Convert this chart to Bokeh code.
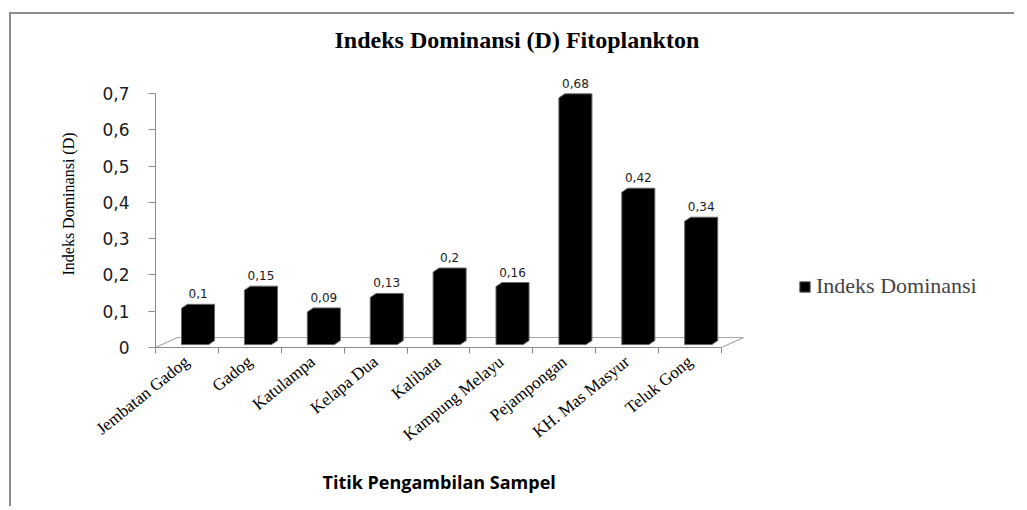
from bokeh.plotting import figure
from bokeh.models import (Range1d, FixedTicker, Legend, LegendItem, LinearAxis, Title)
from bokeh.core.properties import value
from bokeh.embed import file_html
from bokeh.resources import INLINE

# ---------------- data ----------------
categories = ["Jembatan Gadog", "Gadog", "Katulampa", "Kelapa Dua", "Kalibata",
              "Kampung Melayu", "Pejampongan", "KH. Mas Masyur", "Teluk Gong"]
values = [0.1, 0.15, 0.09, 0.13, 0.2, 0.16, 0.68, 0.42, 0.34]
y_ticks = [0, 0.1, 0.2, 0.3, 0.4, 0.5, 0.6, 0.7]
y_tick_labels = ["0", "0,1", "0,2", "0,3", "0,4", "0,5", "0,6", "0,7"]
series_name = "Indeks Dominansi"
title_text = "Indeks Dominansi  (D) Fitoplankton"
x_title = "Titik Pengambilan Sampel"
y_title = "Indeks Dominansi (D)"

# ---------------- style constants ----------------
FRONT_LEFT = -0.086   # front face left edge relative to category centre
FRONT_W = 0.43        # width of front face (category units)
DEPTH_DX = 0.095      # bar depth, x (category units)
DEPTH_DY = 0.011      # bar depth, y (value units)
LIFT = 0.008          # bars sit slightly back on the floor
FLOOR_DX = 0.35
FLOOR_DY = 0.0276
AXIS_GRAY = "#8c8c8c"

n = len(categories)
idx = list(range(n))

p = figure(width=1005, height=494, output_backend="svg", toolbar_location=None,
           x_range=Range1d(-0.5, 13.11), y_range=Range1d(0, 0.7909),
           min_border_left=144, min_border_right=5, min_border_top=46,
           min_border_bottom=161, x_axis_type=None, y_axis_type=None)
p.styles = {"margin-top": "12px", "margin-left": "9px",
            "border-top": "2px solid #8c8c8c", "border-left": "2px solid #8c8c8c"}
p.outline_line_color = None
p.xgrid.visible = False
p.ygrid.visible = False

# floor of the 3D plot
fl, fr = -0.5, n - 0.5
p.line(x=[fl, fr, fr + FLOOR_DX, fl + FLOOR_DX, fl],
       y=[0, 0, FLOOR_DY, FLOOR_DY, 0], line_color="#a6a6a6", line_width=1.2)

# bars as 3D silhouettes
xs, ys = [], []
for i, v in zip(idx, values):
    xl = i + FRONT_LEFT
    xr = xl + FRONT_W
    b = LIFT
    t = v + LIFT
    xs.append([xl, xl, xl + DEPTH_DX, xr + DEPTH_DX, xr + DEPTH_DX, xr])
    ys.append([b, t, t + DEPTH_DY, t + DEPTH_DY, b + DEPTH_DY, b])
bars = p.patches(xs=xs, ys=ys, fill_color="black", line_color="#666666", line_width=1)

# data labels
lab_x = [i + FRONT_LEFT + (FRONT_W + DEPTH_DX) / 2 for i in idx]
lab_y = [v + LIFT + DEPTH_DY for v in values]
lab_t = [f"{v:g}".replace(".", ",") for v in values]
p.text(x=lab_x, y=lab_y, text=lab_t, text_font=value("DejaVu Sans"),
       text_font_size="12px", text_align="center", text_baseline="bottom",
       y_offset=-6, text_color="#1a1a1a")

# y axis
yax = LinearAxis(ticker=FixedTicker(ticks=y_ticks, minor_ticks=[]),
                 major_label_overrides={t: l for t, l in zip(y_ticks, y_tick_labels)},
                 bounds=(0, 0.7))
yax.axis_line_color = AXIS_GRAY
yax.major_tick_line_color = AXIS_GRAY
yax.major_tick_out = 7
yax.major_tick_in = 0
yax.major_label_standoff = 19
yax.major_label_text_font = "DejaVu Sans"
yax.major_label_text_font_size = "17px"
yax.major_label_text_color = "#1a1a1a"
yax.axis_label = y_title
yax.axis_label_text_font = "Liberation Serif"
yax.axis_label_text_font_size = "16px"
yax.axis_label_text_font_style = "normal"
yax.axis_label_text_color = "black"
yax.axis_label_standoff = 22
p.add_layout(yax, "left")

# x axis
xax = LinearAxis(ticker=FixedTicker(ticks=idx, minor_ticks=[i - 0.5 for i in range(n + 1)]),
                 major_label_overrides={i: c for i, c in zip(idx, categories)},
                 bounds=(fl, fr))
xax.axis_line_color = AXIS_GRAY
xax.major_tick_line_color = None
xax.major_tick_out = 6
xax.major_tick_in = 0
xax.minor_tick_line_color = AXIS_GRAY
xax.minor_tick_out = 6
xax.minor_tick_in = 0
xax.major_label_orientation = 0.68
xax.major_label_standoff = 6
xax.major_label_text_font = "Liberation Serif"
xax.major_label_text_font_size = "17px"
xax.major_label_text_color = "black"
p.add_layout(xax, "below")

# x axis title, centred under the category axis
p.add_layout(Title(text=x_title, align="left", offset=167, text_font="Open Sans",
                   text_font_size="18px", text_font_style="bold", text_color="black",
                   standoff=27), "below")

# title
p.title = Title(text=title_text, align="left", offset=179, text_font="Liberation Serif",
                text_font_size="24px", text_font_style="bold", text_color="black",
                standoff=16)

# legend (inside the frame, right of the bars)
legend = Legend(items=[LegendItem(label=series_name, renderers=[bars])],
                location=(643, 48), border_line_color=None, background_fill_alpha=0,
                label_text_font="Liberation Serif", label_text_font_size="22px",
                glyph_width=13, glyph_height=13, padding=0, margin=0, spacing=0,
                label_standoff=5)
p.add_layout(legend)

open("out.html", "w").write(file_html(p, INLINE))
